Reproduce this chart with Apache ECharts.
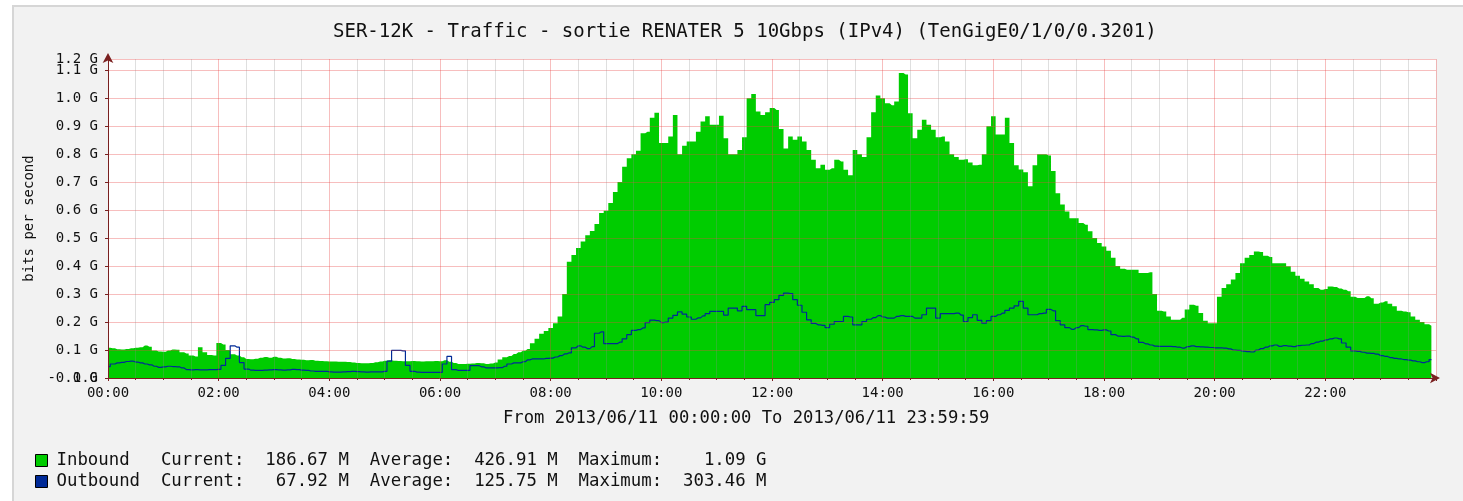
<!DOCTYPE html>
<html><head><meta charset="utf-8">
<script src="https://cdn.jsdelivr.net/npm/echarts@6/dist/echarts.min.js"></script>
<style>
html,body{margin:0;padding:0;background:#fff;width:1463px;height:501px;overflow:hidden}
#panel{position:absolute;left:12px;top:5px;width:1451px;height:496px;background:#f2f2f2;border-left:2px solid #d6d6d6;border-top:2px solid #d6d6d6;box-sizing:border-box}
#chart{position:absolute;left:0;top:0;width:1463px;height:501px}
</style></head><body>
<div id="panel"></div><div id="chart"></div>
<script>
// ---- data (values in Gbit/s, one sample every 5 minutes, rows = hours 00..23) ----
const stepMinutes = 5;
const inbound = [
 0.108,0.106,0.103,0.102,0.104,0.106,0.108,0.110,0.116,0.112,0.098,0.095,
 0.094,0.098,0.102,0.101,0.092,0.088,0.080,0.077,0.110,0.092,0.082,0.080,
 0.125,0.120,0.100,0.085,0.080,0.074,0.068,0.067,0.069,0.072,0.075,0.072,
 0.076,0.072,0.070,0.071,0.068,0.066,0.065,0.063,0.064,0.062,0.061,0.060,
 0.059,0.059,0.058,0.058,0.057,0.055,0.054,0.053,0.053,0.054,0.056,0.059,
 0.062,0.063,0.062,0.061,0.060,0.060,0.061,0.060,0.059,0.060,0.060,0.061,
 0.060,0.063,0.058,0.054,0.050,0.050,0.051,0.052,0.054,0.053,0.050,0.052,
 0.055,0.066,0.074,0.079,0.086,0.092,0.097,0.104,0.124,0.140,0.158,0.168,
 0.179,0.196,0.220,0.300,0.415,0.440,0.465,0.488,0.510,0.525,0.550,0.590,
 0.598,0.625,0.665,0.700,0.755,0.785,0.800,0.812,0.875,0.880,0.930,0.948,
 0.840,0.840,0.863,0.940,0.800,0.830,0.845,0.845,0.880,0.917,0.935,0.905,
 0.905,0.937,0.857,0.800,0.800,0.815,0.860,1.000,1.015,0.952,0.940,0.950,
 0.965,0.958,0.890,0.820,0.863,0.851,0.863,0.845,0.815,0.780,0.750,0.762,
 0.744,0.750,0.780,0.774,0.744,0.725,0.815,0.800,0.790,0.860,0.950,1.010,
 1.000,0.982,0.975,0.988,1.090,1.085,0.946,0.857,0.887,0.923,0.905,0.887,
 0.860,0.863,0.845,0.800,0.790,0.780,0.782,0.770,0.760,0.762,0.800,0.900,
 0.935,0.870,0.870,0.930,0.840,0.760,0.745,0.735,0.685,0.760,0.800,0.800,
 0.795,0.740,0.660,0.620,0.595,0.571,0.571,0.554,0.548,0.524,0.500,0.482,
 0.470,0.455,0.430,0.400,0.390,0.387,0.387,0.387,0.375,0.375,0.378,0.300,
 0.240,0.238,0.220,0.208,0.208,0.215,0.245,0.262,0.258,0.232,0.205,0.196,
 0.196,0.290,0.322,0.335,0.352,0.375,0.410,0.430,0.440,0.452,0.450,0.437,
 0.432,0.410,0.410,0.410,0.399,0.380,0.365,0.355,0.345,0.335,0.322,0.315,
 0.318,0.327,0.325,0.320,0.315,0.310,0.290,0.286,0.286,0.292,0.285,0.265,
 0.270,0.274,0.265,0.256,0.240,0.238,0.235,0.220,0.208,0.200,0.192,0.187
];
const outbound = [
 0.041,0.050,0.054,0.056,0.059,0.060,0.057,0.054,0.050,0.047,0.042,0.038,
 0.040,0.042,0.041,0.040,0.036,0.030,0.029,0.030,0.029,0.029,0.030,0.030,
 0.031,0.045,0.070,0.115,0.110,0.055,0.032,0.028,0.027,0.027,0.028,0.029,
 0.030,0.029,0.028,0.029,0.031,0.030,0.028,0.027,0.025,0.024,0.024,0.024,
 0.022,0.021,0.021,0.022,0.023,0.024,0.023,0.022,0.021,0.022,0.022,0.022,
 0.024,0.060,0.099,0.099,0.097,0.045,0.024,0.021,0.020,0.020,0.020,0.020,
 0.020,0.050,0.077,0.030,0.027,0.027,0.027,0.044,0.044,0.040,0.036,0.036,
 0.036,0.037,0.042,0.050,0.054,0.054,0.058,0.065,0.068,0.068,0.068,0.070,
 0.071,0.075,0.080,0.086,0.090,0.108,0.115,0.110,0.105,0.112,0.160,0.165,
 0.123,0.123,0.123,0.128,0.140,0.155,0.170,0.173,0.179,0.198,0.207,0.205,
 0.198,0.200,0.214,0.224,0.236,0.228,0.218,0.210,0.215,0.222,0.230,0.238,
 0.238,0.238,0.225,0.250,0.250,0.240,0.256,0.244,0.244,0.223,0.223,0.262,
 0.270,0.280,0.295,0.303,0.302,0.280,0.260,0.235,0.208,0.195,0.190,0.188,
 0.180,0.192,0.202,0.202,0.220,0.218,0.190,0.190,0.202,0.210,0.216,0.223,
 0.218,0.214,0.214,0.220,0.223,0.220,0.220,0.214,0.214,0.226,0.250,0.250,
 0.214,0.230,0.230,0.230,0.232,0.225,0.202,0.216,0.226,0.206,0.196,0.205,
 0.220,0.226,0.232,0.242,0.250,0.258,0.274,0.250,0.226,0.226,0.230,0.232,
 0.245,0.240,0.205,0.190,0.180,0.174,0.180,0.187,0.185,0.173,0.172,0.170,
 0.172,0.168,0.155,0.150,0.149,0.150,0.146,0.140,0.127,0.122,0.118,0.114,
 0.113,0.113,0.113,0.112,0.110,0.107,0.112,0.115,0.112,0.111,0.110,0.109,
 0.108,0.108,0.107,0.104,0.100,0.099,0.096,0.094,0.093,0.100,0.105,0.110,
 0.115,0.118,0.113,0.116,0.114,0.112,0.116,0.117,0.118,0.123,0.128,0.132,
 0.136,0.140,0.143,0.140,0.125,0.110,0.097,0.095,0.092,0.089,0.088,0.085,
 0.080,0.077,0.073,0.070,0.068,0.066,0.064,0.061,0.058,0.055,0.058,0.066
];
const xTickLabels = ['00:00','02:00','04:00','06:00','08:00','10:00','12:00','14:00','16:00','18:00','20:00','22:00'];
const chartTitle = 'SER-12K - Traffic - sortie RENATER 5 10Gbps (IPv4) (TenGigE0/1/0/0.3201)';
const rangeText = 'From 2013/06/11 00:00:00 To 2013/06/11 23:59:59';
const yAxisName = 'bits per second';
const legendNames = ['Inbound', 'Outbound'];
const currentText = ['186.67 M', '67.92 M'];
const averageText = ['426.91 M', '125.75 M'];
const maximumText = ['1.09 G', '303.46 M'];
const seriesColors = ['#00cc00', '#002a97'];

// ---- build ----
const MONO = 'DejaVu Sans Mono';
const toPairs = arr => arr.map((v, i) => [i * stepMinutes / 60, v]);
const pad = (s, n) => (' '.repeat(n) + s).slice(-n);
const padR = (s, n) => (s + ' '.repeat(n)).slice(0, n);
const legendLine = i => padR(legendNames[i], 10) + 'Current:  ' + pad(currentText[i], 8) +
  '  Average:  ' + pad(averageText[i], 8) + '  Maximum:  ' + pad(maximumText[i], 8);
const axisColor = '#7a2020';
const Y_MAX = 1.14;
// main tick labels (0 .. 1.1)
const yFmt = v => {
  if (v > 1.105) return '';
  if (v === 0) return '-0.0 G';
  return v.toFixed(1) + ' G';
};
// overprinted labels at the two ends of the axis
const yFmtExtra = v => {
  if (v === 0) return '1.0';
  if (v > 1.105) return '1.2 G';
  return '';
};

const chart = echarts.init(document.getElementById('chart'), null, {renderer: 'canvas'});
chart.setOption({
  animation: false,
  backgroundColor: 'transparent',
  title: [
    {text: chartTitle, left: 333, top: 21, padding: 0,
     textStyle: {fontFamily: MONO, fontSize: 19, fontWeight: 'normal', color: '#111', lineHeight: 22}},
    {text: rangeText, left: 503, top: 409, padding: 0,
     textStyle: {fontFamily: MONO, fontSize: 17.2, fontWeight: 'normal', color: '#111', lineHeight: 20}}
  ],
  legend: {
    orient: 'vertical', left: 35, top: 450, padding: 0, itemGap: 0,
    itemWidth: 12, itemHeight: 12, icon: 'rect', selectedMode: false,
    data: legendNames,
    formatter: name => legendLine(legendNames.indexOf(name)),
    itemStyle: {borderColor: '#000', borderWidth: 1},
    textStyle: {fontFamily: MONO, fontSize: 17.35, color: '#111', lineHeight: 21, padding: [0, 0, 0, 4]}
  },
  grid: {left: 108, right: 27, top: 59, bottom: 123, show: true, backgroundColor: '#ffffff', borderWidth: 0},
  xAxis: {
    type: 'value', min: 0, max: 24, interval: 2, z: 3,
    axisLine: {show: true, lineStyle: {color: axisColor, width: 1},
      symbol: ['none', 'arrow'], symbolSize: [8, 10], symbolOffset: [0, 4]},
    axisTick: {show: true, length: 3, lineStyle: {color: axisColor}},
    minorTick: {show: true, splitNumber: 4, length: 2, lineStyle: {color: axisColor}},
    axisLabel: {formatter: v => (Number.isInteger(v / 2) && xTickLabels[v / 2]) || '',
      fontFamily: MONO, fontSize: 14, color: '#111', margin: 8},
    splitLine: {show: true, lineStyle: {color: 'rgba(232,70,70,0.35)', width: 1}},
    minorSplitLine: {show: true, lineStyle: {color: 'rgba(140,140,140,0.28)', width: 1}}
  },
  yAxis: [
    {type: 'value', min: 0, max: Y_MAX, interval: 0.1, z: 3,
     name: yAxisName, nameLocation: 'middle', nameGap: 63, nameRotate: 90,
     nameTextStyle: {fontFamily: MONO, fontSize: 14, color: '#111'},
     axisLine: {show: true, lineStyle: {color: axisColor, width: 1},
       symbol: ['none', 'arrow'], symbolSize: [8, 10], symbolOffset: [0, 6]},
     axisTick: {show: true, length: 3, lineStyle: {color: axisColor}},
     axisLabel: {formatter: yFmt, fontFamily: MONO, fontSize: 14, color: '#111', margin: 10,
       showMaxLabel: false, showMinLabel: true, hideOverlap: false},
     splitLine: {show: true, lineStyle: {color: 'rgba(232,70,70,0.35)', width: 1}}},
    {type: 'value', min: 0, max: Y_MAX, interval: 0.1, position: 'left', z: 3,
     axisLine: {show: false}, axisTick: {show: false}, splitLine: {show: false},
     axisLabel: {formatter: yFmtExtra, fontFamily: MONO, fontSize: 14, color: '#111', margin: 10,
       showMinLabel: true, showMaxLabel: true, hideOverlap: false}}
  ],
  series: [
    {type: 'line', name: legendNames[0], data: toPairs(inbound), step: 'middle',
     symbol: 'none', z: 1, lineStyle: {width: 0, color: seriesColors[0]},
     itemStyle: {color: seriesColors[0]}, areaStyle: {color: seriesColors[0], opacity: 1}},
    {type: 'line', name: legendNames[1], data: toPairs(outbound), step: 'middle',
     symbol: 'none', z: 2, lineStyle: {width: 1.2, color: seriesColors[1]},
     itemStyle: {color: seriesColors[1]}}
  ]
});
</script>
</body></html>
